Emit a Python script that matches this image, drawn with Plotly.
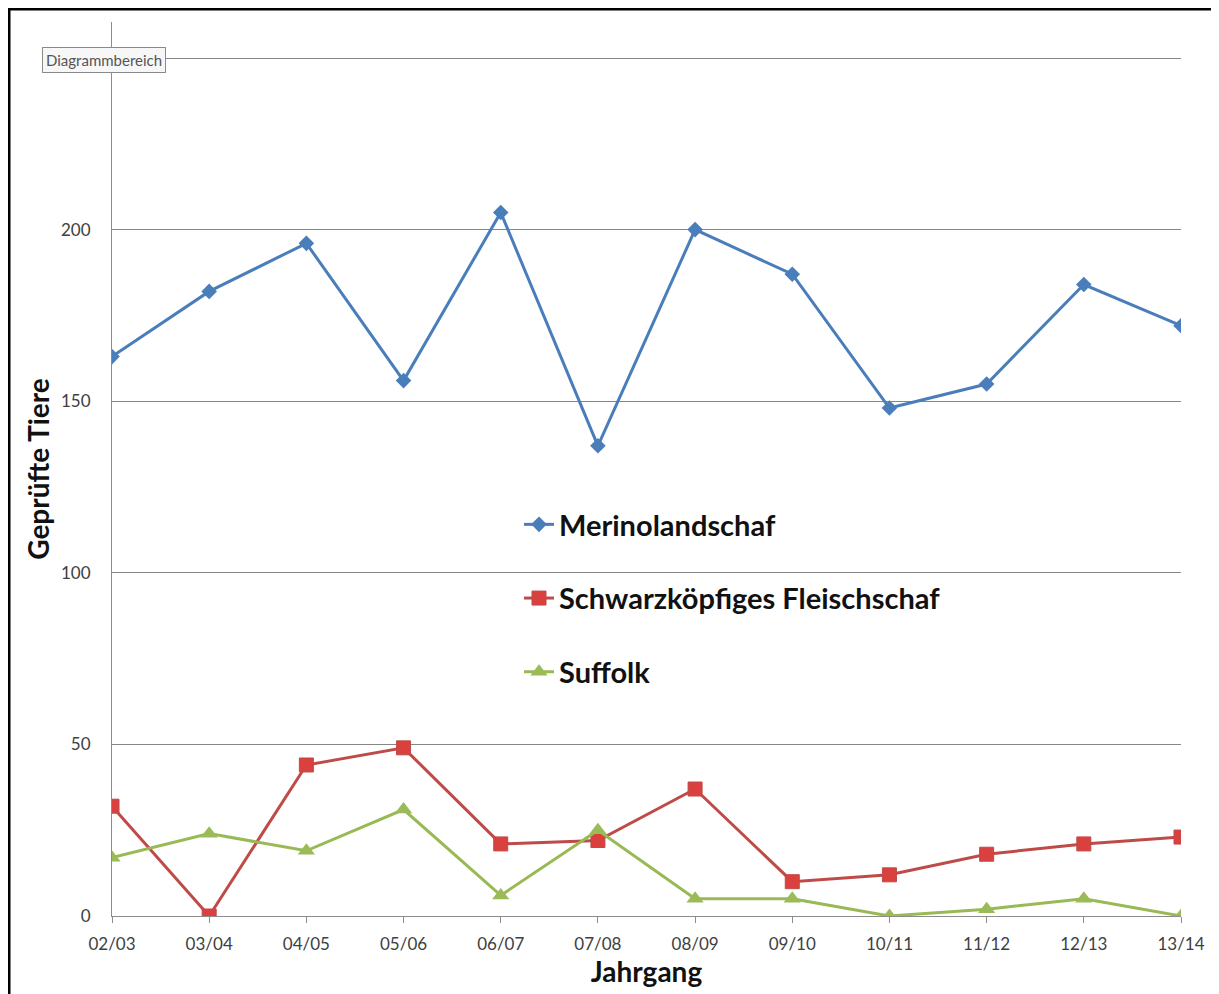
import plotly.graph_objects as go

jahrgang = ["02/03", "03/04", "04/05", "05/06", "06/07", "07/08",
            "08/09", "09/10", "10/11", "11/12", "12/13", "13/14"]
merino = [163, 182, 196, 156, 205, 137, 200, 187, 148, 155, 184, 172]
schwarz = [32, 0, 44, 49, 21, 22, 37, 10, 12, 18, 21, 23]
suffolk = [17, 24, 19, 31, 6, 25, 5, 5, 0, 2, 5, 0]
y_ticks = [0, 50, 100, 150, 200, 250]
y_ticktext = ["0", "50", "100", "150", "200", ""]

# page body has an 8px margin; reference coordinates are shifted by it
OFF = 8
W, H = 1219 - OFF, 994 - OFF
L, R, T, B = 112 - OFF, 1181 - OFF, 22 - OFF, 916 - OFF

def px(x):
    return (x - OFF - L) / (R - L)

def py(y):
    return (B - (y - OFF)) / (B - T)

fig = go.Figure()
fig.add_trace(go.Scatter(
    x=jahrgang, y=merino, name="Merinolandschaf", mode="lines+markers",
    legendgroup="a",
    line=dict(color="#4A7EBB", width=3),
    marker=dict(symbol="diamond", size=12, color="#4A7EBB",
                line=dict(color="#4A7EBB", width=0))))
fig.add_trace(go.Scatter(
    x=jahrgang, y=schwarz, name="Schwarzköpfiges Fleischschaf", mode="lines+markers",
    legendgroup="b",
    line=dict(color="#BE4B48", width=3),
    marker=dict(symbol="square", size=14, color="#D9403E",
                line=dict(color="#BE4B48", width=1))))
fig.add_trace(go.Scatter(
    x=jahrgang, y=suffolk, name="Suffolk", mode="lines+markers",
    legendgroup="c",
    line=dict(color="#98B954", width=3),
    marker=dict(symbol="triangle-up", size=15, color="#9BBB59",
                line=dict(color="#98B954", width=0))))

fig.update_layout(
    width=W, height=H,
    margin=dict(l=L, r=W - R, t=T, b=H - B, autoexpand=False),
    paper_bgcolor="white", plot_bgcolor="white",
    font=dict(family="Lato, Carlito, Calibri, sans-serif", color="#404040"),
    showlegend=True,
    legend=dict(x=px(519), y=py(499), xanchor="left", yanchor="top",
                bgcolor="rgba(0,0,0,0)", tracegroupgap=33,
                font=dict(size=29, color="#111111", family="Lato, sans-serif", weight="bold")),
    xaxis=dict(
        type="category", range=[0, len(jahrgang) - 1],
        showgrid=False, showline=True, linecolor="#8C8C8C", linewidth=1,
        ticks="outside", ticklen=6, tickcolor="#8C8C8C",
        ticklabelstandoff=7,
        tickfont=dict(size=17, color="#404040"),
        title=dict(text="<b>Jahrgang</b>", standoff=2,
                   font=dict(size=28, color="#111111")),
        zeroline=False),
    yaxis=dict(
        range=[0, (B - T) / 3.432], tickvals=y_ticks, ticktext=y_ticktext,
        showgrid=True, gridcolor="#868686", gridwidth=1,
        showline=True, linecolor="#8C8C8C", linewidth=1,
        ticks="", ticklabelstandoff=17,
        tickfont=dict(size=17, color="#404040"),
        title=dict(text="<b>Geprüfte Tiere</b>", standoff=3,
                   font=dict(size=28, color="#111111")),
        zeroline=False),
)

# outer chart border
fig.add_shape(type="rect", xref="paper", yref="paper",
              x0=px(9), x1=px(1230), y0=py(1005), y1=py(9),
              line=dict(color="black", width=3), fillcolor="rgba(0,0,0,0)",
              layer="above")

# Excel tooltip "Diagrammbereich"
fig.add_annotation(xref="paper", yref="paper", x=px(104), y=py(60),
                   xanchor="center", yanchor="middle", showarrow=False,
                   text="Diagrammbereich", font=dict(size=15, color="#555555",
                   family="Lato, sans-serif"),
                   bgcolor="#F7F7F7", bordercolor="#8A8A8A", borderwidth=1,
                   borderpad=3)

fig.write_html("out.html")
